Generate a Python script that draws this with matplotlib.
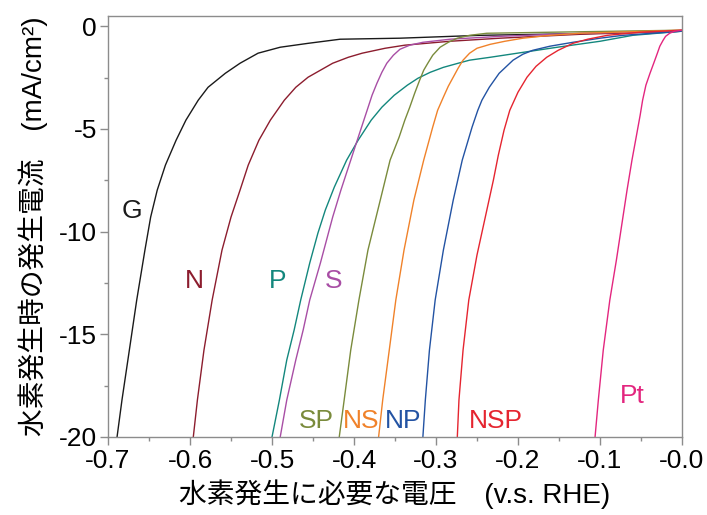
import matplotlib.pyplot as plt
import numpy as np

plt.rcParams['font.family'] = ['Liberation Sans', 'Noto Sans CJK JP']
plt.rcParams['axes.unicode_minus'] = False

# potential (V vs RHE) and current density (mA/cm2)
g_v = [-0.689, -0.683, -0.674, -0.665, -0.655, -0.648, -0.640, -0.630, -0.617, -0.605, -0.590,
       -0.578, -0.557, -0.539, -0.517, -0.490, -0.456, -0.417, -0.344, -0.246, -0.100, 0.0]
g_j = [-20.0, -18.20, -15.77, -13.33, -10.90, -9.29, -7.98, -6.76, -5.55, -4.57, -3.60,
       -2.97, -2.29, -1.80, -1.31, -1.02, -0.83, -0.63, -0.58, -0.44, -0.34, -0.24]

n_v = [-0.596, -0.591, -0.583, -0.573, -0.561, -0.550, -0.539, -0.529, -0.516, -0.502, -0.485, -0.471,
       -0.456, -0.441, -0.426, -0.407, -0.390, -0.362, -0.338, -0.283, -0.222, -0.124, 0.0]
n_j = [-20.0, -18.20, -15.77, -13.33, -10.90, -9.29, -7.98, -6.76, -5.55, -4.57, -3.60, -2.97,
       -2.48, -2.14, -1.80, -1.51, -1.31, -1.07, -0.92, -0.73, -0.58, -0.39, -0.24]

p_v = [-0.500, -0.491, -0.482, -0.473, -0.465, -0.454, -0.444, -0.435, -0.424, -0.409, -0.395, -0.379, -0.366,
       -0.351, -0.335, -0.322, -0.307, -0.291, -0.273, -0.259, -0.234, -0.194, -0.152, -0.100, -0.060, 0.0]
p_j = [-20.0, -18.20, -16.25, -14.79, -13.33, -11.53, -10.07, -8.95, -7.83, -6.52, -5.55, -4.57, -3.94,
       -3.36, -2.87, -2.53, -2.24, -2.00, -1.80, -1.65, -1.51, -1.27, -1.02, -0.73, -0.44, -0.24]

s_v = [-0.490, -0.482, -0.471, -0.462, -0.454, -0.441, -0.426, -0.416, -0.404, -0.394, -0.384, -0.378,
       -0.372, -0.366, -0.360, -0.352, -0.344, -0.332, -0.316, -0.283, -0.222, -0.124, 0.0]
s_j = [-20.0, -18.20, -16.25, -14.79, -13.33, -11.53, -9.29, -7.98, -6.52, -5.30, -4.09, -3.36,
       -2.77, -2.24, -1.80, -1.41, -1.12, -0.92, -0.78, -0.63, -0.49, -0.34, -0.24]

sp_v = [-0.418, -0.412, -0.404, -0.394, -0.383, -0.368, -0.356, -0.345, -0.338, -0.332, -0.326,
        -0.320, -0.315, -0.310, -0.304, -0.295, -0.285, -0.274, -0.259, -0.238, -0.161, 0.0]
sp_j = [-20.0, -18.20, -15.77, -13.33, -10.90, -8.47, -6.52, -5.40, -4.57, -3.94, -3.26,
        -2.63, -2.14, -1.80, -1.41, -1.02, -0.78, -0.58, -0.44, -0.34, -0.29, -0.19]

ns_v = [-0.370, -0.365, -0.357, -0.349, -0.339, -0.327, -0.315, -0.304, -0.298, -0.291, -0.285,
        -0.279, -0.273, -0.267, -0.259, -0.250, -0.234, -0.216, -0.194, -0.161, -0.124, 0.0]
ns_j = [-20.0, -18.20, -15.77, -13.33, -10.90, -8.47, -6.52, -4.91, -4.09, -3.45, -2.92,
        -2.48, -2.04, -1.65, -1.31, -1.07, -0.88, -0.73, -0.58, -0.44, -0.34, -0.19]

np_v = [-0.316, -0.313, -0.308, -0.301, -0.291, -0.279, -0.268, -0.256, -0.249, -0.244,
        -0.235, -0.223, -0.206, -0.194, -0.182, -0.161, -0.133, -0.100, -0.072, 0.0]
np_j = [-20.0, -18.20, -15.77, -13.33, -10.90, -8.47, -6.52, -4.91, -4.09, -3.60,
        -2.97, -2.29, -1.65, -1.36, -1.17, -0.97, -0.78, -0.58, -0.44, -0.24]

nsp_v = [-0.274, -0.272, -0.267, -0.260, -0.250, -0.238, -0.230, -0.224, -0.217, -0.210,
         -0.200, -0.189, -0.178, -0.165, -0.151, -0.133, -0.115, -0.091, -0.051, 0.0]
nsp_j = [-20.0, -18.20, -15.77, -13.33, -11.14, -8.95, -7.49, -6.28, -5.06, -4.09,
         -3.21, -2.48, -1.95, -1.51, -1.17, -0.83, -0.63, -0.44, -0.29, -0.19]

pt_v = [-0.106, -0.102, -0.096, -0.088, -0.080, -0.072, -0.067, -0.061, -0.055, -0.051, -0.048,
        -0.044, -0.039, -0.034, -0.030, -0.027, -0.023, -0.020, -0.015, -0.009, 0.0]
pt_j = [-20.0, -18.20, -15.77, -13.33, -11.39, -9.29, -7.98, -6.52, -5.21, -4.33, -3.60,
        -2.87, -2.29, -1.75, -1.31, -0.97, -0.68, -0.49, -0.34, -0.24, -0.19]

names = ['G', 'N', 'P', 'S', 'SP', 'NS', 'NP', 'NSP', 'Pt']
colors = ['#1a1a1a', '#8c1d2e', '#13877d', '#a84ea5', '#7a8b3c', '#f0822a', '#2353a3', '#e52530', '#e3267f']
label_x = [-0.671, -0.595, -0.493, -0.425, -0.446, -0.391, -0.340, -0.227, -0.061]
label_y = [-9.34, -12.75, -12.75, -12.75, -19.56, -19.56, -19.56, -19.56, -18.35]


def start():
    curves = [(g_v, g_j), (n_v, n_j), (p_v, p_j), (s_v, s_j), (sp_v, sp_j),
              (ns_v, ns_j), (np_v, np_j), (nsp_v, nsp_j), (pt_v, pt_j)]

    fig = plt.figure(figsize=(7.07, 5.15), dpi=100)
    ax = fig.add_axes([0.1528, 0.1515, 0.8118, 0.8174])

    for (v, j), c in zip(curves, colors):
        ax.plot(v, j, color=c, lw=1.0, solid_joinstyle='round')

    for name, c, x, y in zip(names, colors, label_x, label_y):
        ax.text(x, y, name, color=c, fontsize=19, ha='center', va='baseline')

    ax.set_xlim(-0.7, 0.0)
    ax.set_ylim(-20, 0.5)
    xt = np.arange(-0.7, 0.01, 0.1)
    ax.set_xticks(xt)
    ax.set_xticklabels([f'{t:.1f}' for t in xt])
    ax.set_xticks(np.arange(-0.65, 0.0, 0.1), minor=True)
    ax.set_yticks([-20, -15, -10, -5, 0])
    ax.set_yticklabels(['-20', '-15', '-10', '-5', '0'])
    ax.set_yticks([-17.5, -12.5, -7.5, -2.5], minor=True)

    for sp in ax.spines.values():
        sp.set_color('#8c8c8c')
        sp.set_linewidth(1.0)
    ax.tick_params(which='both', direction='out', color='#8c8c8c', labelsize=19,
                   top=False, right=False)
    ax.tick_params(which='major', length=6, width=1.0)
    ax.tick_params(which='minor', length=3, width=1.0)
    ax.tick_params(axis='x', pad=3)
    ax.tick_params(axis='y', pad=2)

    ax.set_xlabel('水素発生に必要な電圧\u3000(v.s. RHE)', fontsize=20, labelpad=4)
    ax.set_ylabel('水素発生時の発生電流\u3000(mA/cm²)', fontsize=20, labelpad=8)

    fig.savefig('out.png', dpi=100)


if __name__ == "__main__":
    start()
